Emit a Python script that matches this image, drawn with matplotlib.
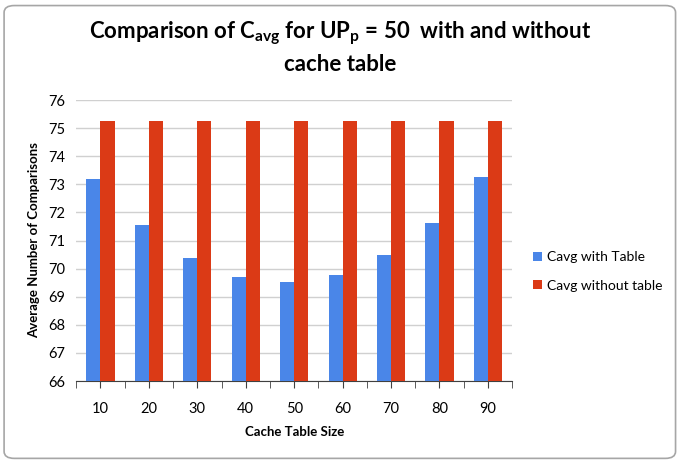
import numpy as np
import matplotlib
matplotlib.use("Agg")
import matplotlib.pyplot as plt
from matplotlib.patches import FancyBboxPatch

# Data
sizes = ['10', '20', '30', '40', '50', '60', '70', '80', '90']
with_table = [73.2, 71.57, 70.38, 69.71, 69.52, 69.78, 70.48, 71.62, 73.25]
without_table = [75.25, 75.25, 75.25, 75.25, 75.25, 75.25, 75.25, 75.25, 75.25]

plt.rcParams['font.family'] = ['Lato', 'DejaVu Sans']
plt.rcParams['mathtext.fontset'] = 'custom'
plt.rcParams['mathtext.rm'] = 'Lato'
plt.rcParams['mathtext.bf'] = 'Lato:bold'

fig = plt.figure(figsize=(6.81, 4.63), dpi=100)
ax = fig.add_axes([0.112, 0.177, 0.640, 0.607])

# rounded frame around the chart
frame = FancyBboxPatch((0.006, 0.01), 0.986, 0.978, boxstyle="round,pad=0,rounding_size=0.015",
                       transform=fig.transFigure, facecolor='none', edgecolor='#a6a6a6', linewidth=1.2)
fig.patches.append(frame)

x = np.arange(len(sizes))
w = 0.29
ax.bar(x - w / 2, with_table, w, color='#4a86e8', label='Cavg with Table', zorder=3)
ax.bar(x + w / 2, without_table, w, color='#db3a16', label='Cavg without table', zorder=3)

ax.set_ylim(66, 76)
ax.set_yticks(range(66, 77))
ax.set_xlim(-0.5, len(sizes) - 0.5)
ax.set_xticks(x)
ax.set_xticklabels(sizes)
ax.set_xticks(np.arange(-0.5, len(sizes)), minor=True)
ax.tick_params(axis='x', which='both', direction='out', length=5, color='#404040', labelsize=10.5, pad=10)
ax.tick_params(axis='y', length=0, labelsize=10.5, pad=8)
ax.grid(axis='y', color='#d0d0d0', linewidth=1, zorder=0)
for s in ['left', 'right', 'top']:
    ax.spines[s].set_visible(False)
ax.spines['bottom'].set_color('#404040')

ax.set_xlabel('Cache Table Size', fontsize=9.5, fontweight='bold', labelpad=7)
ax.set_ylabel('Average Number of Comparisons', fontsize=9.5, fontweight='bold', labelpad=6)

fig.text(0.5, 0.958, 'Comparison of C$_{\\mathbf{avg}}$ for UP$_{\\mathbf{p}}$ = 50  with and without\ncache table',
         ha='center', va='top', fontsize=16, fontweight='bold', linespacing=1.4)

ax.legend(loc='center left', bbox_to_anchor=(1.02, 0.39), frameon=False, fontsize=10,
          handlelength=0.6, handleheight=0.6, handletextpad=0.4, labelspacing=1.2)

fig.savefig('out.png', dpi=100)
